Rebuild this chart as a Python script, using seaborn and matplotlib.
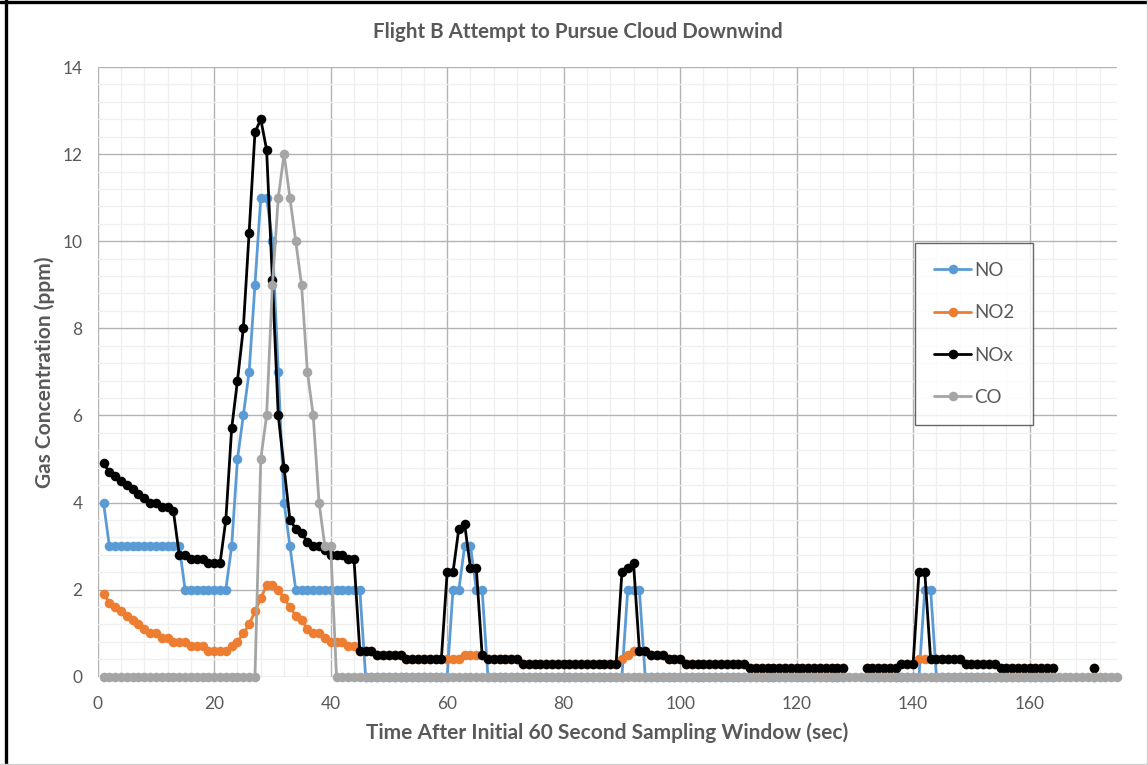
# flight_b_cloud.py
# Gas concentrations while trying to follow the plume downwind (Flight B)

import numpy as np
import pandas as pd
import seaborn as sns
import matplotlib.pyplot as plt
from matplotlib.lines import Line2D
from matplotlib.ticker import MultipleLocator

nan = np.nan

# seconds after the initial 60 s sampling window
time_s = list(range(1, 176))

# readings (ppm), one per second
no_ppm = [
    4, 3, 3, 3, 3, 3, 3, 3, 3, 3, 3, 3, 3, 3, 2, 2, 2, 2, 2, 2, 2, 2, 3, 5, 6,
    7, 9, 11, 11, 10, 7, 4, 3, 2, 2, 2, 2, 2, 2, 2, 2, 2, 2, 2, 2, 0, 0, 0, 0, 0,
    0, 0, 0, 0, 0, 0, 0, 0, 0, 0, 2, 2, 3, 3, 2, 2, 0, 0, 0, 0, 0, 0, 0, 0, 0,
    0, 0, 0, 0, 0, 0, 0, 0, 0, 0, 0, 0, 0, 0, 0, 2, 2, 2, 0, 0, 0, 0, 0, 0, 0,
    0, 0, 0, 0, 0, 0, 0, 0, 0, 0, 0, 0, 0, 0, 0, 0, 0, 0, 0, 0, 0, 0, 0, 0, 0,
    0, 0, 0, nan, nan, nan, 0, 0, 0, 0, 0, 0, 0, 0, 0, 0, 2, 2, 0, 0, 0, 0, 0, 0, 0,
    0, 0, 0, 0, 0, 0, 0, 0, 0, 0, 0, 0, 0, 0, nan, nan, nan, nan, nan, nan, 0, nan, nan, nan, nan,
]
no2_ppm = [
    1.9, 1.7, 1.6, 1.5, 1.4, 1.3, 1.2, 1.1, 1.0, 1.0, 0.9, 0.9, 0.8, 0.8, 0.8, 0.7, 0.7, 0.7, 0.6, 0.6, 0.6, 0.6, 0.7, 0.8, 1.0,
    1.2, 1.5, 1.8, 2.1, 2.1, 2.0, 1.8, 1.6, 1.4, 1.3, 1.1, 1.0, 1.0, 0.9, 0.8, 0.8, 0.8, 0.7, 0.7, 0.6, 0.6, 0.6, 0.5, 0.5, 0.5,
    0.5, 0.5, 0.4, 0.4, 0.4, 0.4, 0.4, 0.4, 0.4, 0.4, 0.4, 0.4, 0.5, 0.5, 0.5, 0.5, 0.4, 0.4, 0.4, 0.4, 0.4, 0.4, 0.3, 0.3, 0.3,
    0.3, 0.3, 0.3, 0.3, 0.3, 0.3, 0.3, 0.3, 0.3, 0.3, 0.3, 0.3, 0.3, 0.3, 0.4, 0.5, 0.6, 0.6, 0.6, 0.5, 0.5, 0.5, 0.4, 0.4, 0.4,
    0.3, 0.3, 0.3, 0.3, 0.3, 0.3, 0.3, 0.3, 0.3, 0.3, 0.3, 0.2, 0.2, 0.2, 0.2, 0.2, 0.2, 0.2, 0.2, 0.2, 0.2, 0.2, 0.2, 0.2, 0.2,
    0.2, 0.2, 0.2, nan, nan, nan, 0.2, 0.2, 0.2, 0.2, 0.2, 0.2, 0.3, 0.3, 0.3, 0.4, 0.4, 0.4, 0.4, 0.4, 0.4, 0.4, 0.4, 0.3, 0.3,
    0.3, 0.3, 0.3, 0.3, 0.2, 0.2, 0.2, 0.2, 0.2, 0.2, 0.2, 0.2, 0.2, 0.2, nan, nan, nan, nan, nan, nan, 0.2, nan, nan, nan, nan,
]
nox_ppm = [
    4.9, 4.7, 4.6, 4.5, 4.4, 4.3, 4.2, 4.1, 4.0, 4.0, 3.9, 3.9, 3.8, 2.8, 2.8, 2.7, 2.7, 2.7, 2.6, 2.6, 2.6, 3.6, 5.7, 6.8, 8.0,
    10.2, 12.5, 12.8, 12.1, 9.1, 6.0, 4.8, 3.6, 3.4, 3.3, 3.1, 3.0, 3.0, 2.9, 2.8, 2.8, 2.8, 2.7, 2.7, 0.6, 0.6, 0.6, 0.5, 0.5, 0.5,
    0.5, 0.5, 0.4, 0.4, 0.4, 0.4, 0.4, 0.4, 0.4, 2.4, 2.4, 3.4, 3.5, 2.5, 2.5, 0.5, 0.4, 0.4, 0.4, 0.4, 0.4, 0.4, 0.3, 0.3, 0.3,
    0.3, 0.3, 0.3, 0.3, 0.3, 0.3, 0.3, 0.3, 0.3, 0.3, 0.3, 0.3, 0.3, 0.3, 2.4, 2.5, 2.6, 0.6, 0.6, 0.5, 0.5, 0.5, 0.4, 0.4, 0.4,
    0.3, 0.3, 0.3, 0.3, 0.3, 0.3, 0.3, 0.3, 0.3, 0.3, 0.3, 0.2, 0.2, 0.2, 0.2, 0.2, 0.2, 0.2, 0.2, 0.2, 0.2, 0.2, 0.2, 0.2, 0.2,
    0.2, 0.2, 0.2, nan, nan, nan, 0.2, 0.2, 0.2, 0.2, 0.2, 0.2, 0.3, 0.3, 0.3, 2.4, 2.4, 0.4, 0.4, 0.4, 0.4, 0.4, 0.4, 0.3, 0.3,
    0.3, 0.3, 0.3, 0.3, 0.2, 0.2, 0.2, 0.2, 0.2, 0.2, 0.2, 0.2, 0.2, 0.2, nan, nan, nan, nan, nan, nan, 0.2, nan, nan, nan, nan,
]
co_ppm = [
    0, 0, 0, 0, 0, 0, 0, 0, 0, 0, 0, 0, 0, 0, 0, 0, 0, 0, 0, 0, 0, 0, 0, 0, 0,
    0, 0, 5, 6, 9, 11, 12, 11, 10, 9, 7, 6, 4, 3, 3, 0, 0, 0, 0, 0, 0, 0, 0, 0, 0,
    0, 0, 0, 0, 0, 0, 0, 0, 0, 0, 0, 0, 0, 0, 0, 0, 0, 0, 0, 0, 0, 0, 0, 0, 0,
    0, 0, 0, 0, 0, 0, 0, 0, 0, 0, 0, 0, 0, 0, 0, 0, 0, 0, 0, 0, 0, 0, 0, 0, 0,
    0, 0, 0, 0, 0, 0, 0, 0, 0, 0, 0, 0, 0, 0, 0, 0, 0, 0, 0, 0, 0, 0, 0, 0, 0,
    0, 0, 0, 0, 0, 0, 0, 0, 0, 0, 0, 0, 0, 0, 0, 0, 0, 0, 0, 0, 0, 0, 0, 0, 0,
    0, 0, 0, 0, 0, 0, 0, 0, 0, 0, 0, 0, 0, 0, 0, 0, 0, 0, 0, 0, 0, 0, 0, 0, 0,
]

gases = ['NO', 'NO2', 'NOx', 'CO']
gas_colors = ['#5B9BD5', '#ED7D31', '#000000', '#A5A5A5']
text_grey = '#595959'

# long form table, a new segment id after each gap so lines break at missing seconds
rows = []
for gas, vals in zip(gases, [no_ppm, no2_ppm, nox_ppm, co_ppm]):
    seg = 0
    gap = False
    for t, v in zip(time_s, vals):
        if np.isnan(v):
            gap = True
            continue
        if gap:
            seg += 1
            gap = False
        rows.append((t, gas, v, gas + '_' + str(seg)))
df = pd.DataFrame(rows, columns=['time', 'gas', 'ppm', 'seg'])

sns.set_theme(style='white')
plt.rcParams['font.family'] = ['Lato', 'DejaVu Sans']

fig = plt.figure(figsize=(11.48, 7.65), dpi=100)
ax = fig.add_axes([0.0851, 0.1154, 0.8879, 0.797])

sns.lineplot(data=df, x='time', y='ppm', hue='gas', hue_order=gases,
             palette=dict(zip(gases, gas_colors)), units='seg', estimator=None,
             sort=False, marker='o', markersize=6.9, markeredgewidth=0,
             linewidth=2.0, legend=False, clip_on=False, ax=ax)

ax.set_xlim(0, 175)
ax.set_ylim(0, 14)
ax.xaxis.set_major_locator(MultipleLocator(20))
ax.xaxis.set_minor_locator(MultipleLocator(4))
ax.yaxis.set_major_locator(MultipleLocator(2))
ax.yaxis.set_minor_locator(MultipleLocator(0.4))
ax.grid(which='major', color='#b3b3b3', linewidth=1.0)
ax.grid(which='minor', color='#efefef', linewidth=0.9)
ax.set_axisbelow(True)
for s in ax.spines.values():
    s.set_visible(False)
ax.tick_params(which='both', length=0, labelsize=12.5, labelcolor=text_grey)
ax.tick_params(axis='x', pad=14)
ax.tick_params(axis='y', pad=11)
ax.set_xlabel('')
ax.set_ylabel('')

fig.text(0.503, 0.958, 'Flight B Attempt to Pursue Cloud Downwind', ha='center', va='center',
         fontsize=14.8, fontweight='bold', color=text_grey)
fig.text(0.529, 0.042, 'Time After Initial 60 Second Sampling Window (sec)', ha='center', va='center',
         fontsize=15, fontweight='bold', color=text_grey)
fig.text(0.039, 0.514, 'Gas Concentration (ppm)', ha='center', va='center', rotation=90,
         fontsize=15, fontweight='bold', color=text_grey)

handles = [Line2D([], [], color=c, linewidth=2.0, marker='o', markersize=6.9, markeredgewidth=0)
           for c in gas_colors]
leg = ax.legend(handles, gases, loc='upper left', bbox_to_anchor=(0.802, 0.711), borderaxespad=0,
                frameon=True, fancybox=False, edgecolor='#404040', fontsize=13.5, labelcolor=text_grey,
                labelspacing=1.35, handlelength=2.0, handletextpad=0.15, borderpad=1.0)
leg.get_frame().set_linewidth(1.0)

# outer frame of the screenshot
fig.add_artist(Line2D([0.005, 0.005], [0, 1], color='black', linewidth=2.4))
fig.add_artist(Line2D([0, 1], [0.997, 0.997], color='black', linewidth=2.4))
fig.add_artist(Line2D([0.9988, 0.9988], [0, 1], color='#d0d0d0', linewidth=1.0))
fig.add_artist(Line2D([0, 1], [0.0013, 0.0013], color='#d0d0d0', linewidth=1.0))

plt.savefig('out.png', dpi=100)
